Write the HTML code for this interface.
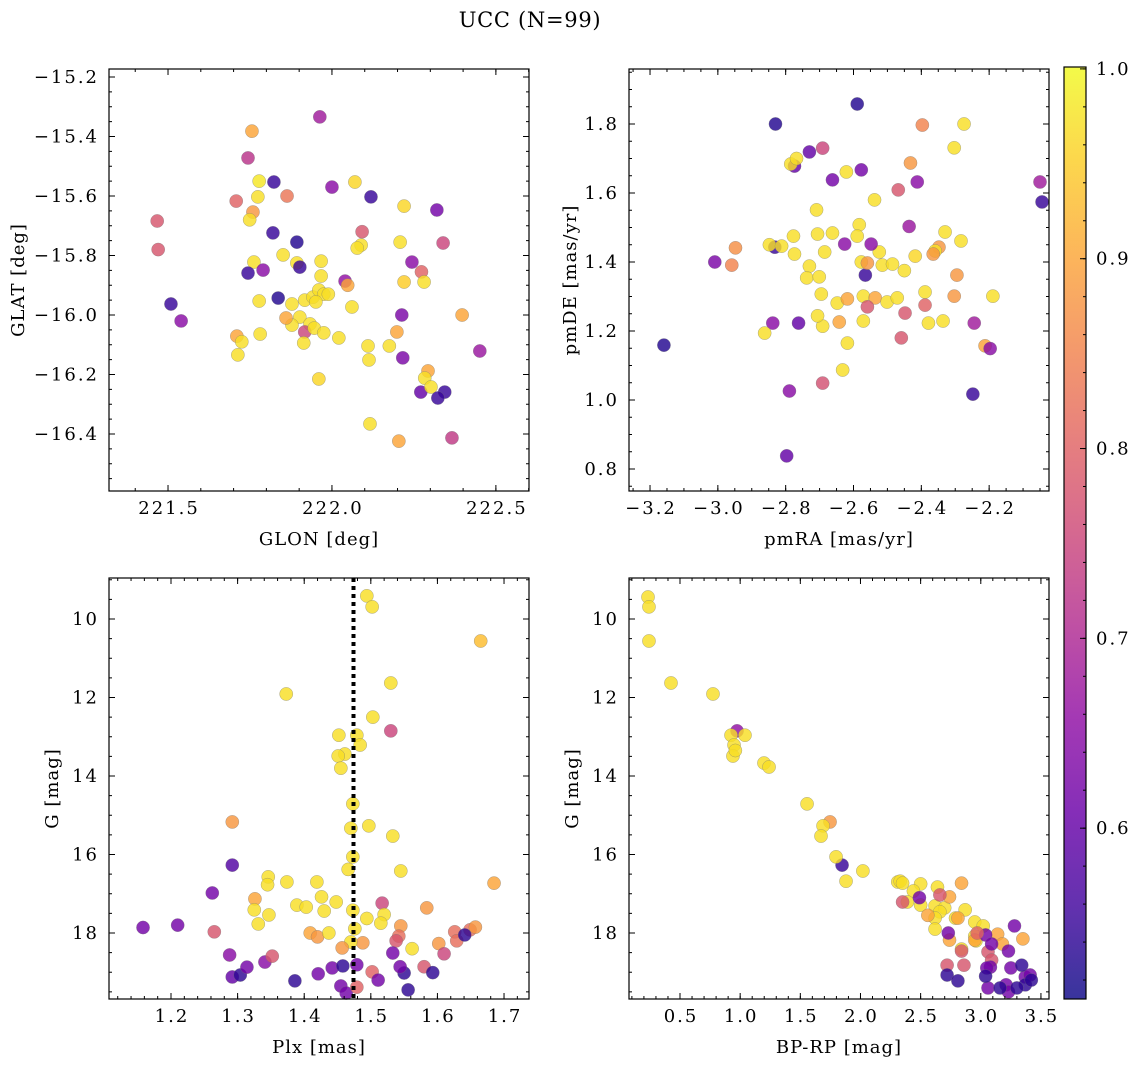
<!DOCTYPE html>
<html><head><meta charset="utf-8"><style>
html,body{margin:0;padding:0;background:#fff;}
svg{display:block;font-family:"DejaVu Serif","Liberation Serif",serif;}
</style></head><body>
<svg id="fig" width="1136" height="1067" viewBox="0 0 1136 1067" xmlns="http://www.w3.org/2000/svg">
<text x="530" y="27" text-anchor="middle" font-size="21" letter-spacing="0.7">UCC (N=99)</text>
</svg>
<script>
// Panel 1: GLON / GLAT
const glon=[221.963,221.756,221.744,221.708,221.778,221.823,221.774,221.863,221.759,221.749,221.820,221.467,221.470,221.893,222.000,222.070,222.119,222.092,222.089,222.077,222.208,222.220,222.339,222.320,221.762,221.744,221.790,221.851,221.893,221.902,221.967,221.967,222.040,222.048,222.220,222.244,222.273,222.281,221.509,221.540,221.836,221.778,221.878,221.917,221.942,221.960,221.975,221.951,221.989,222.061,221.902,221.933,221.878,221.860,221.917,221.946,221.975,221.914,222.021,221.781,221.710,221.725,221.713,222.110,221.960,222.113,222.213,222.198,222.175,222.397,222.216,222.293,222.283,222.271,222.302,222.344,222.323,222.451,222.366,222.116,222.204];
const glat=[-15.334,-15.382,-15.472,-15.617,-15.55,-15.553,-15.603,-15.6,-15.654,-15.68,-15.724,-15.684,-15.78,-15.755,-15.57,-15.553,-15.603,-15.72,-15.765,-15.775,-15.755,-15.634,-15.758,-15.647,-15.822,-15.859,-15.849,-15.798,-15.825,-15.839,-15.819,-15.869,-15.886,-15.9,-15.889,-15.822,-15.855,-15.889,-15.963,-16.02,-15.943,-15.953,-15.963,-15.95,-15.94,-15.916,-15.93,-15.956,-15.93,-15.973,-16.007,-16.03,-16.034,-16.01,-16.057,-16.044,-16.06,-16.094,-16.077,-16.064,-16.071,-16.09,-16.134,-16.104,-16.215,-16.151,-16.0,-16.057,-16.104,-16.0,-16.144,-16.188,-16.212,-16.259,-16.242,-16.259,-16.279,-16.121,-16.413,-16.366,-16.424];
const prob1=[0.68,0.9,0.72,0.8,0.98,0.55,0.97,0.83,0.88,0.97,0.55,0.78,0.78,0.53,0.65,0.96,0.55,0.78,0.97,0.97,0.97,0.96,0.75,0.62,0.97,0.55,0.65,0.97,0.97,0.55,0.97,0.97,0.66,0.9,0.95,0.65,0.8,0.97,0.55,0.65,0.53,0.97,0.97,0.97,0.97,0.97,0.97,0.97,0.97,0.97,0.97,0.97,0.97,0.9,0.75,0.97,0.97,0.97,0.97,0.97,0.9,0.97,0.97,0.97,0.96,0.97,0.63,0.9,0.97,0.9,0.63,0.9,0.97,0.6,0.97,0.55,0.55,0.67,0.73,0.97,0.9];
// Panel 2: pmRA / pmDE
const pmra=[-2.589,-2.830,-2.274,-2.397,-2.774,-2.691,-2.730,-2.785,-2.768,-2.662,-2.577,-2.050,-2.044,-2.621,-2.709,-2.583,-2.538,-2.468,-2.412,-2.303,-2.432,-2.436,-2.330,-2.348,-2.832,-2.848,-2.812,-2.777,-2.774,-2.706,-2.662,-2.685,-2.626,-2.589,-2.577,-2.565,-2.559,-2.524,-2.548,-2.515,-2.485,-2.418,-2.359,-2.283,-2.365,-2.730,-2.738,-2.701,-2.948,-2.959,-3.009,-2.450,-2.295,-2.303,-2.189,-2.695,-2.648,-2.618,-2.571,-2.691,-2.642,-2.571,-2.536,-2.501,-2.471,-2.389,-2.389,-2.448,-2.379,-2.336,-2.244,-2.559,-2.706,-2.762,-2.838,-2.862,-2.618,-2.459,-2.212,-2.197,-3.159,-2.632,-2.691,-2.248,-2.789,-2.797];
const pmde=[1.858,1.80,1.80,1.797,1.678,1.73,1.719,1.684,1.70,1.638,1.667,1.632,1.574,1.661,1.551,1.508,1.58,1.609,1.632,1.731,1.687,1.503,1.487,1.443,1.443,1.45,1.446,1.475,1.423,1.481,1.484,1.429,1.452,1.475,1.4,1.362,1.397,1.429,1.452,1.391,1.394,1.417,1.432,1.461,1.423,1.388,1.354,1.357,1.441,1.391,1.40,1.375,1.362,1.301,1.301,1.307,1.281,1.293,1.301,1.214,1.226,1.229,1.296,1.284,1.296,1.313,1.275,1.252,1.223,1.229,1.223,1.27,1.244,1.223,1.223,1.194,1.165,1.18,1.157,1.149,1.159,1.087,1.049,1.017,1.026,0.838];
const prob2=[0.53,0.53,0.97,0.85,0.6,0.75,0.6,0.97,0.97,0.62,0.62,0.68,0.55,0.97,0.97,0.97,0.97,0.78,0.65,0.97,0.88,0.67,0.97,0.88,0.55,0.97,0.97,0.97,0.97,0.97,0.97,0.97,0.65,0.97,0.97,0.55,0.88,0.97,0.65,0.97,0.97,0.96,0.97,0.97,0.88,0.97,0.97,0.97,0.87,0.85,0.63,0.97,0.88,0.88,0.97,0.97,0.97,0.9,0.97,0.97,0.9,0.97,0.9,0.97,0.97,0.97,0.8,0.78,0.97,0.97,0.68,0.78,0.97,0.6,0.65,0.97,0.97,0.78,0.9,0.65,0.53,0.97,0.77,0.55,0.65,0.6];
// Panel 3: Plx / G
const plx=[1.494,1.502,1.665,1.53,1.373,1.503,1.53,1.452,1.479,1.484,1.461,1.451,1.455,1.473,1.292,1.497,1.533,1.292,1.473,1.545,1.262,1.346,1.345,1.374,1.419,1.426,1.389,1.403,1.326,1.325,1.347,1.448,1.473,1.494,1.517,1.52,1.43,1.331,1.409,1.42,1.437,1.476,1.488,1.47,1.457,1.545,1.542,1.538,1.515,1.584,1.562,1.602,1.626,1.629,1.649,1.657,1.685,1.61,1.641,1.158,1.21,1.265,1.288,1.292,1.304,1.314,1.341,1.352,1.386,1.421,1.442,1.458,1.455,1.463,1.479,1.479,1.502,1.511,1.533,1.55,1.556,1.544,1.58,1.593,1.470,1.466];
const gmag3=[9.41,9.69,10.56,11.63,11.91,12.5,12.85,12.96,12.96,13.21,13.44,13.49,13.8,14.71,15.17,15.27,15.53,16.27,16.06,16.42,16.98,16.57,16.77,16.7,16.7,17.08,17.29,17.34,17.13,17.41,17.54,17.21,17.42,17.63,17.24,17.53,17.44,17.77,18.0,18.1,18.0,17.89,18.25,18.23,18.38,17.82,18.08,18.2,17.75,17.36,18.4,18.27,17.97,18.2,17.92,17.85,16.73,18.53,18.05,17.86,17.8,17.97,18.56,19.12,19.07,18.87,18.74,18.59,19.22,19.04,18.89,18.84,19.35,19.53,19.38,18.81,18.99,19.2,18.51,19.02,19.45,18.86,18.86,19.01,15.33,16.38];
const prob3=[0.97,0.97,0.93,0.97,0.97,0.97,0.75,0.97,0.97,0.97,0.97,0.97,0.97,0.97,0.88,0.97,0.97,0.58,0.97,0.97,0.62,0.97,0.97,0.97,0.97,0.97,0.97,0.97,0.9,0.97,0.97,0.97,0.97,0.97,0.75,0.97,0.97,0.97,0.9,0.88,0.97,0.97,0.88,0.97,0.88,0.88,0.82,0.78,0.97,0.88,0.97,0.88,0.82,0.82,0.82,0.88,0.9,0.75,0.54,0.62,0.62,0.78,0.65,0.6,0.54,0.62,0.65,0.78,0.54,0.62,0.62,0.54,0.62,0.62,0.8,0.62,0.8,0.62,0.62,0.54,0.54,0.62,0.78,0.54,0.97,0.97];
// Panel 4: BP-RP / G
const bprp=[0.234,0.242,0.242,0.425,0.774,0.974,0.924,1.04,0.949,0.94,0.96,1.198,1.24,1.556,1.747,1.689,1.672,1.847,1.797,2.02,1.88,2.31,2.33,2.35,2.50,2.64,2.44,2.39,2.50,2.62,2.70,2.66,2.62,2.79,2.87,2.95,3.02,2.95,2.96,2.84,2.81,2.84,2.74,2.74,2.95,3.14,3.35,3.18,2.35,2.66,2.84,2.86,2.72,3.06,3.09,2.49,2.73,3.04,3.09,3.28,3.23,3.25,3.08,3.05,3.06,3.21,3.23,3.37,3.41,2.72,2.81,3.04,3.16,3.34,3.37,3.42,3.30,2.62,2.56,2.97];
const gmag4=[9.44,9.69,10.56,11.63,11.91,12.85,12.96,12.96,13.21,13.49,13.35,13.67,13.77,14.71,15.17,15.27,15.53,16.27,16.06,16.42,16.68,16.7,16.68,16.73,16.75,16.83,16.93,17.21,17.29,17.31,17.36,17.46,17.62,17.62,17.41,17.72,17.82,18.08,18.2,18.41,17.62,16.73,17.08,18.18,18.18,18.03,18.15,18.28,17.21,17.03,18.46,18.82,18.82,18.48,18.69,17.10,18.0,18.05,18.28,17.82,18.46,18.89,18.87,18.89,19.40,19.32,19.50,19.12,19.07,19.07,19.22,19.10,19.40,18.82,19.32,19.20,19.40,17.90,17.55,18.0];
const prob4=[0.97,0.97,0.97,0.97,0.97,0.66,0.97,0.97,0.97,0.97,0.97,0.97,0.97,0.97,0.88,0.97,0.97,0.55,0.97,0.97,0.97,0.97,0.97,0.97,0.97,0.97,0.97,0.97,0.97,0.97,0.97,0.97,0.97,0.97,0.97,0.97,0.97,0.97,0.97,0.97,0.9,0.9,0.9,0.9,0.9,0.9,0.9,0.9,0.78,0.78,0.78,0.78,0.78,0.78,0.78,0.62,0.62,0.62,0.62,0.62,0.62,0.62,0.62,0.62,0.62,0.62,0.62,0.62,0.62,0.54,0.54,0.54,0.54,0.54,0.54,0.54,0.54,0.97,0.9,0.8];

const cbMin=0.51, cbMax=1.001;
const cbTicks=[0.6,0.7,0.8,0.9,1.0];
const plxMean=1.474;

const NS="http://www.w3.org/2000/svg";
const svg=document.getElementById('fig');
function mk(tag,attrs,parent){const e=document.createElementNS(NS,tag);for(const k in attrs)e.setAttribute(k,attrs[k]);(parent||svg).appendChild(e);return e;}
const stops=[[0,[13,8,135]],[0.1,[65,4,157]],[0.2,[106,0,168]],[0.3,[143,13,164]],[0.4,[177,42,144]],[0.5,[204,71,120]],[0.6,[225,100,98]],[0.7,[242,132,75]],[0.8,[252,166,54]],[0.9,[252,206,37]],[1,[240,249,33]]];
function plasma(t){t=Math.max(0,Math.min(1,t));for(let i=0;i<stops.length-1;i++){const a=stops[i],b=stops[i+1];if(t<=b[0]){const f=(t-a[0])/(b[0]-a[0]);const c=a[1].map((v,j)=>Math.round(v+(b[1][j]-v)*f));return `rgb(${c[0]},${c[1]},${c[2]})`;}}return 'rgb(240,249,33)';}
function cmap(p){return plasma((p-cbMin)/(cbMax-cbMin));}
function fmt(v,d){const s=Math.abs(v).toFixed(d);return (v<-1e-9?'\u2212':'')+s;}
const TFS=18, TLS=2;

function panel(o){
  const g=mk('g',{});
  
  
  const sx=v=>o.x0+(v-o.xmin)/(o.xmax-o.xmin)*(o.x1-o.x0);
  const sy=o.inv?(v=>o.y0+(v-o.ymin)/(o.ymax-o.ymin)*(o.y1-o.y0)):(v=>o.y1-(v-o.ymin)/(o.ymax-o.ymin)*(o.y1-o.y0));
  const pg=mk('g',{},g);
  
  
  for(let i=0;i<o.xs.length;i++){
    const c=mk('circle',{cx:sx(o.xs[i]),cy:sy(o.ys[i]),r:6.6,fill:cmap(o.ps[i]),'fill-opacity':0.82,stroke:'#777','stroke-width':0.5,'stroke-opacity':0.6},pg);
    
    
  }
  if(o.vline!==undefined){
    const l=mk('line',{x1:sx(o.vline),x2:sx(o.vline),y1:o.y0,y2:o.y1,stroke:'#000','stroke-width':4,'stroke-dasharray':'4,4'},g);
    
    
  }
  const f=mk('rect',{x:o.x0,y:o.y0,width:o.x1-o.x0,height:o.y1-o.y0,fill:'none',stroke:'#000','stroke-width':1.2},g);
  
  
  const tk=mk('g',{stroke:'#000','stroke-width':1},g);
  for(let v=o.xmt0;v<=o.xmax+1e-9;v+=o.xmt){if(v<o.xmin-1e-9)continue;const x=sx(v);mk('line',{x1:x,x2:x,y1:o.y1,y2:o.y1-3},tk);mk('line',{x1:x,x2:x,y1:o.y0,y2:o.y0+3},tk);}
  for(let v=o.ymt0;v<=o.ymax+1e-9;v+=o.ymt){if(v<o.ymin-1e-9)continue;const y=sy(v);mk('line',{x1:o.x0,x2:o.x0+3,y1:y,y2:y},tk);mk('line',{x1:o.x1,x2:o.x1-3,y1:y,y2:y},tk);}
  o.xticks.forEach(v=>{const x=sx(v);mk('line',{x1:x,x2:x,y1:o.y1,y2:o.y1-6},tk);mk('line',{x1:x,x2:x,y1:o.y0,y2:o.y0+6},tk);
    const t=mk('text',{x:x+TLS/2,y:o.y1+23,'text-anchor':'middle','font-size':TFS,'letter-spacing':TLS},g);t.textContent=fmt(v,o.xd);});
  o.yticks.forEach(v=>{const y=sy(v);mk('line',{x1:o.x0,x2:o.x0+6,y1:y,y2:y},tk);mk('line',{x1:o.x1,x2:o.x1-6,y1:y,y2:y},tk);
    const t=mk('text',{x:o.x0-10,y:y+6,'text-anchor':'end','font-size':TFS,'letter-spacing':TLS},g);t.textContent=fmt(v,o.yd);});
  const xl=mk('text',{x:(o.x0+o.x1)/2,y:o.y1+54,'text-anchor':'middle','font-size':18,'letter-spacing':1},g);xl.textContent=o.xlab;
  
  const yx=o.ylx, yy=(o.y0+o.y1)/2;
  const yl=mk('text',{x:yx,y:yy,'text-anchor':'middle','font-size':18,'letter-spacing':1,transform:`rotate(-90 ${yx} ${yy})`},g);yl.textContent=o.ylab;
  
}
panel({name:'glon-glat-panel',xs:glon,ys:glat,ps:prob1,x0:109,x1:529,y0:69,y1:491,xmin:221.320,xmax:222.601,ymin:-16.5916,ymax:-15.1731,inv:false,
  xticks:[221.5,222.0,222.5],xd:1,xmt0:221.4,xmt:0.1,yticks:[-16.4,-16.2,-16.0,-15.8,-15.6,-15.4,-15.2],yd:1,ymt0:-16.55,ymt:0.05,xlab:'GLON [deg]',ylab:'GLAT [deg]',ylx:24});
panel({name:'pm-panel',xs:pmra,ys:pmde,ps:prob2,x0:629,x1:1049,y0:69,y1:491,xmin:-3.262,xmax:-2.0235,ymin:0.7362,ymax:1.9594,inv:false,
  xticks:[-3.2,-3.0,-2.8,-2.6,-2.4,-2.2],xd:1,xmt0:-3.25,xmt:0.05,yticks:[0.8,1.0,1.2,1.4,1.6,1.8],yd:1,ymt0:0.75,ymt:0.05,xlab:'pmRA [mas/yr]',ylab:'pmDE [mas/yr]',ylx:576});
panel({name:'plx-g-panel',xs:plx,ys:gmag3,ps:prob3,x0:109,x1:529,y0:578,y1:999,xmin:1.1069,xmax:1.7375,ymin:8.955,ymax:19.682,inv:true,vline:plxMean,
  xticks:[1.2,1.3,1.4,1.5,1.6,1.7],xd:1,xmt0:1.12,xmt:0.02,yticks:[10,12,14,16,18],yd:0,ymt0:9.0,ymt:0.5,xlab:'Plx [mas]',ylab:'G [mag]',ylx:58});
panel({name:'cmd-panel',xs:bprp,ys:gmag4,ps:prob4,x0:629,x1:1049,y0:578,y1:999,xmin:0.076,xmax:3.567,ymin:8.955,ymax:19.682,inv:true,
  xticks:[0.5,1.0,1.5,2.0,2.5,3.0,3.5],xd:1,xmt0:0.1,xmt:0.1,yticks:[10,12,14,16,18],yd:0,ymt0:9.0,ymt:0.5,xlab:'BP-RP [mag]',ylab:'G [mag]',ylx:578});

// colorbar
const cb=mk('g',{});


const cx0=1064,cx1=1086,cy0=67,cy1=999;
const defs=mk('defs',{},cb);
const lg=mk('linearGradient',{id:'cbg',x1:0,y1:1,x2:0,y2:0},defs);
for(let i=0;i<=20;i++){const t=i/20;mk('stop',{offset:t,'stop-color':plasma(t),'stop-opacity':0.82},lg);}
mk('rect',{x:cx0,y:cy0,width:cx1-cx0,height:cy1-cy0,fill:'url(#cbg)',stroke:'#000','stroke-width':1.2},cb);
const cby=v=>cy1-(v-cbMin)/(cbMax-cbMin)*(cy1-cy0);
for(let v=0.52;v<=1.0001;v+=0.02){const y=cby(v);mk('line',{x1:cx1,x2:cx1-3,y1:y,y2:y,stroke:'#000'},cb);}
cbTicks.forEach(v=>{const y=cby(v);mk('line',{x1:cx1,x2:cx1-6,y1:y,y2:y,stroke:'#000'},cb);
  const t=mk('text',{x:cx1+10,y:y+6,'font-size':TFS,'letter-spacing':TLS},cb);t.textContent=v.toFixed(1);
  });
</script>
</body></html>
